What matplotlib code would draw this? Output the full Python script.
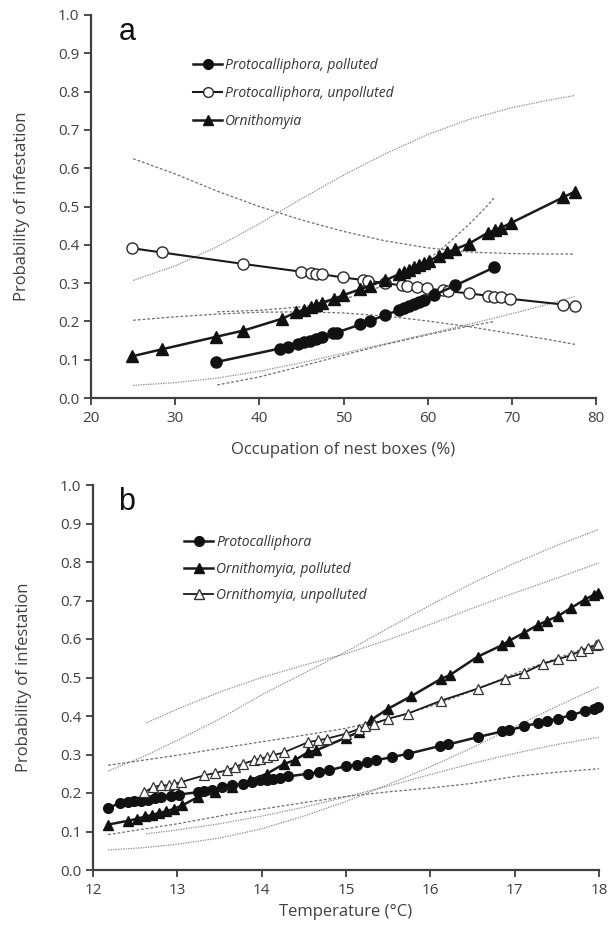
import matplotlib
matplotlib.use("Agg")
import matplotlib.pyplot as plt
from matplotlib.lines import Line2D

plt.rcParams['font.family'] = ['Open Sans', 'DejaVu Sans']

# ---------------- Panel a data ----------------
pp_x = [34.9, 42.4, 43.4, 44.6, 45.3, 46.0, 46.7, 47.4, 48.7, 49.2, 52.0, 53.1, 54.9,
        56.6, 57.2, 57.8, 58.4, 59.0, 59.6, 60.7, 63.3, 67.9]
pp_y = [0.094, 0.129, 0.133, 0.141, 0.145, 0.149, 0.155, 0.158, 0.169, 0.171, 0.192, 0.200,
        0.217, 0.229, 0.235, 0.240, 0.246, 0.251, 0.257, 0.268, 0.294, 0.341]

pu_x = [24.9, 28.4, 38.1, 44.9, 46.1, 46.7, 47.4, 49.9, 52.3, 52.9, 54.9, 56.9, 57.6,
        58.7, 59.9, 61.8, 62.4, 64.9, 67.2, 67.9, 68.7, 69.8, 76.1, 77.5]
pu_y = [0.391, 0.380, 0.350, 0.330, 0.326, 0.325, 0.323, 0.315, 0.308, 0.306, 0.300, 0.294,
        0.292, 0.290, 0.286, 0.281, 0.279, 0.273, 0.267, 0.265, 0.263, 0.259, 0.244, 0.241]

orn_x = [24.9, 28.4, 34.9, 38.1, 42.7, 44.4, 45.3, 46.1, 46.7, 47.4, 48.9, 49.9, 52.0,
         53.1, 54.9, 56.6, 57.2, 57.8, 58.4, 59.0, 59.6, 60.2, 61.3, 62.3, 63.3, 64.9,
         67.2, 68.0, 68.7, 69.9, 76.1, 77.5]
orn_y = [0.109, 0.127, 0.160, 0.176, 0.207, 0.224, 0.231, 0.238, 0.244, 0.249, 0.259, 0.268,
         0.284, 0.293, 0.307, 0.323, 0.329, 0.334, 0.341, 0.347, 0.352, 0.358, 0.371, 0.380,
         0.389, 0.403, 0.432, 0.438, 0.444, 0.457, 0.524, 0.539]

# confidence limits, panel a
orn_ci_x = [25, 30, 35, 40, 45, 50, 55, 60, 65, 70, 74, 77.5]
orn_ci_hi = [0.307, 0.345, 0.395, 0.455, 0.520, 0.582, 0.638, 0.688, 0.728, 0.758, 0.776, 0.790]
orn_ci_lo = [0.033, 0.040, 0.052, 0.070, 0.092, 0.117, 0.142, 0.167, 0.193, 0.220, 0.243, 0.265]

pu_ci_x = [25, 30, 35, 40, 45, 50, 55, 60, 65, 70, 74, 77.5]
pu_ci_hi = [0.625, 0.585, 0.540, 0.500, 0.465, 0.435, 0.410, 0.392, 0.381, 0.377, 0.376, 0.376]
pu_ci_lo = [0.203, 0.212, 0.219, 0.224, 0.225, 0.222, 0.214, 0.201, 0.186, 0.168, 0.154, 0.140]

pp_ci_x = [35, 40, 45, 50, 55, 58, 60, 62.5, 65, 67, 68]
pp_ci_hi = [0.225, 0.229, 0.238, 0.257, 0.295, 0.330, 0.360, 0.405, 0.455, 0.500, 0.525]
pp_ci_lo = [0.034, 0.055, 0.083, 0.112, 0.140, 0.155, 0.165, 0.177, 0.188, 0.196, 0.200]

# ---------------- Panel b data ----------------
pb_x = [12.18, 12.32, 12.42, 12.49, 12.57, 12.65, 12.73, 12.81, 12.92, 13.02, 13.24, 13.32,
        13.41, 13.53, 13.65, 13.78, 13.88, 13.98, 14.06, 14.14, 14.22, 14.31, 14.55, 14.68,
        14.80, 15.00, 15.13, 15.25, 15.35, 15.54, 15.74, 16.11, 16.21, 16.56, 16.85, 16.93,
        17.11, 17.28, 17.38, 17.51, 17.67, 17.83, 17.94, 17.99]
pb_y = [0.161, 0.174, 0.176, 0.178, 0.180, 0.183, 0.186, 0.189, 0.192, 0.196, 0.202, 0.205,
        0.208, 0.215, 0.220, 0.224, 0.229, 0.233, 0.234, 0.237, 0.240, 0.243, 0.250, 0.254,
        0.259, 0.270, 0.274, 0.280, 0.285, 0.293, 0.302, 0.322, 0.326, 0.345, 0.360, 0.363,
        0.373, 0.382, 0.387, 0.393, 0.402, 0.413, 0.419, 0.424]

op_x = [12.18, 12.42, 12.52, 12.62, 12.70, 12.78, 12.86, 12.96, 13.06, 13.24, 13.45, 13.65,
        13.86, 14.06, 14.27, 14.39, 14.55, 14.65, 15.00, 15.16, 15.30, 15.50, 15.77, 16.13,
        16.23, 16.56, 16.85, 16.93, 17.11, 17.28, 17.38, 17.51, 17.67, 17.83, 17.94, 17.99]
op_y = [0.118, 0.128, 0.133, 0.139, 0.143, 0.148, 0.152, 0.159, 0.168, 0.189, 0.202, 0.215,
        0.233, 0.250, 0.276, 0.285, 0.306, 0.311, 0.344, 0.359, 0.390, 0.419, 0.451, 0.497,
        0.506, 0.554, 0.584, 0.595, 0.616, 0.637, 0.647, 0.659, 0.681, 0.702, 0.715, 0.720]

ou_x = [12.61, 12.71, 12.81, 12.90, 12.96, 13.04, 13.32, 13.45, 13.59, 13.68, 13.78, 13.91,
        13.98, 14.06, 14.14, 14.27, 14.55, 14.67, 14.77, 15.00, 15.16, 15.22, 15.33, 15.50,
        15.73, 16.13, 16.56, 16.88, 17.11, 17.34, 17.51, 17.67, 17.79, 17.87, 17.96, 17.99]
ou_y = [0.202, 0.215, 0.220, 0.220, 0.224, 0.228, 0.246, 0.252, 0.259, 0.267, 0.276, 0.285,
        0.289, 0.293, 0.298, 0.306, 0.332, 0.337, 0.341, 0.354, 0.367, 0.373, 0.380, 0.393,
        0.406, 0.440, 0.471, 0.497, 0.512, 0.536, 0.547, 0.558, 0.570, 0.576, 0.584, 0.588]

# confidence limits, panel b
op_ci_x = [12.18, 12.6, 13.0, 13.5, 14.0, 14.5, 15.0, 15.5, 16.0, 16.5, 17.0, 17.5, 18.0]
op_ci_hi = [0.257, 0.295, 0.337, 0.392, 0.455, 0.511, 0.567, 0.628, 0.688, 0.745, 0.797,
            0.843, 0.885]
op_ci_lo = [0.052, 0.058, 0.067, 0.083, 0.107, 0.140, 0.178, 0.222, 0.268, 0.318, 0.372,
            0.425, 0.476]

ou_ci_x = [12.63, 13.0, 13.5, 14.0, 14.5, 15.0, 15.5, 16.0, 16.5, 17.0, 17.5, 18.0]
ou_ci_hi = [0.382, 0.418, 0.462, 0.500, 0.532, 0.562, 0.598, 0.638, 0.680, 0.720, 0.758, 0.798]
ou_ci_lo = [0.094, 0.104, 0.120, 0.140, 0.163, 0.190, 0.218, 0.248, 0.277, 0.303, 0.326, 0.345]

pb_ci_x = [12.18, 13.0, 13.65, 14.5, 15.0, 15.5, 16.0, 16.5, 17.0, 17.5, 18.0]
pb_ci_hi = [0.272, 0.298, 0.321, 0.350, 0.368, 0.392, 0.425, 0.465, 0.510, 0.550, 0.590]
pb_ci_lo = [0.092, 0.120, 0.146, 0.175, 0.191, 0.203, 0.213, 0.225, 0.243, 0.254, 0.263]

y_ticks = [0.0, 0.1, 0.2, 0.3, 0.4, 0.5, 0.6, 0.7, 0.8, 0.9, 1.0]
xa_ticks = [20, 30, 40, 50, 60, 70, 80]
xb_ticks = [12, 13, 14, 15, 16, 17, 18]

AX_COL = '#404040'
DOT = dict(color='#8a8a8a', lw=0.9, linestyle=(0, (1, 1)), zorder=1)
DASH = dict(color='#6e6e6e', lw=0.9, linestyle=(0, (2.2, 1.6)), zorder=1)

fig = plt.figure(figsize=(6.08, 9.34), dpi=100)
axa = fig.add_axes([91 / 608, 1 - 398 / 934, 505 / 608, 383 / 934])
axb = fig.add_axes([93 / 608, 1 - 870 / 934, 506 / 608, 385 / 934])


def style(ax, xt, xlabel, xpad):
    for s in ['top', 'right']:
        ax.spines[s].set_visible(False)
    for s in ['left', 'bottom']:
        ax.spines[s].set_color(AX_COL)
        ax.spines[s].set_linewidth(1.6)
    ax.set_ylim(0, 1.0)
    ax.set_xlim(xt[0], xt[-1])
    ax.set_yticks(y_ticks)
    ax.set_yticklabels([f"{v:.1f}" for v in y_ticks])
    ax.set_xticks(xt)
    ax.set_xticklabels([str(v) for v in xt])
    ax.tick_params(axis='both', direction='out', length=5, width=1.3, color=AX_COL,
                   labelcolor=AX_COL, labelsize=11)
    ax.tick_params(axis='x', pad=4)
    ax.set_xlabel(xlabel, fontsize=12, color=AX_COL, labelpad=xpad)
    ax.set_ylabel('Probability of infestation', fontsize=12, color=AX_COL, labelpad=20)


# ----- panel a -----
axa.plot(orn_ci_x, orn_ci_hi, **DOT)
axa.plot(orn_ci_x, orn_ci_lo, **DOT)
axa.plot(pu_ci_x, pu_ci_hi, **DASH)
axa.plot(pu_ci_x, pu_ci_lo, **DASH)
axa.plot(pp_ci_x, pp_ci_hi, **DASH)
axa.plot(pp_ci_x, pp_ci_lo, **DASH)

axa.plot(pu_x, pu_y, '-o', color='#1a1a1a', lw=1.5, ms=8, mfc='white', mec='#2a2a2a',
         mew=1.0, zorder=3)
axa.plot(orn_x, orn_y, '-^', color='#1a1a1a', lw=1.8, ms=8, mfc='#111111', mec='#111111',
         zorder=4)
axa.plot(pp_x, pp_y, '-o', color='#1a1a1a', lw=1.8, ms=8, mfc='#111111', mec='#111111',
         zorder=5)
style(axa, xa_ticks, 'Occupation of nest boxes (%)', 12)
axa.text(0.055, 0.955, 'a', transform=axa.transAxes, fontsize=22,
         family='Liberation Sans', color='#111111', va='center', ha='left')

handles_a = [
    Line2D([], [], color='#1a1a1a', lw=1.8, marker='o', ms=7, mfc='#111111', mec='#111111'),
    Line2D([], [], color='#1a1a1a', lw=1.5, marker='o', ms=7, mfc='white', mec='#2a2a2a'),
    Line2D([], [], color='#1a1a1a', lw=1.8, marker='^', ms=7, mfc='#111111', mec='#111111'),
]
labels_a = ['Protocalliphora, polluted', 'Protocalliphora, unpolluted', 'Ornithomyia']
leg = axa.legend(handles_a, labels_a, loc='upper left', bbox_to_anchor=(0.202, 0.888),
                 frameon=False, borderpad=0, borderaxespad=0, handlelength=2.1,
                 handletextpad=0.2, labelspacing=0.95,
                 prop={'family': 'Open Sans', 'style': 'italic', 'size': 10})
for t in leg.get_texts():
    t.set_color('#333333')

# ----- panel b -----
axb.plot(op_ci_x, op_ci_hi, **DOT)
axb.plot(op_ci_x, op_ci_lo, **DOT)
axb.plot(ou_ci_x, ou_ci_hi, **DOT)
axb.plot(ou_ci_x, ou_ci_lo, **DOT)
axb.plot(pb_ci_x, pb_ci_hi, **DASH)
axb.plot(pb_ci_x, pb_ci_lo, **DASH)

axb.plot(pb_x, pb_y, '-o', color='#1a1a1a', lw=1.8, ms=7, mfc='#111111', mec='#111111',
         zorder=3, clip_on=False)
axb.plot(op_x, op_y, '-^', color='#1a1a1a', lw=1.8, ms=7.5, mfc='#111111', mec='#111111',
         zorder=4, clip_on=False)
axb.plot(ou_x, ou_y, '-^', color='#1a1a1a', lw=1.3, ms=7.5, mfc='white', mec='#333333',
         mew=0.9, zorder=5, clip_on=False)
style(axb, xb_ticks, 'Temperature (°C)', 5)
axb.text(0.05, 0.955, 'b', transform=axb.transAxes, fontsize=22,
         family='Liberation Sans', color='#111111', va='center', ha='left')

handles_b = [
    Line2D([], [], color='#1a1a1a', lw=1.8, marker='o', ms=7, mfc='#111111', mec='#111111'),
    Line2D([], [], color='#1a1a1a', lw=1.8, marker='^', ms=7, mfc='#111111', mec='#111111'),
    Line2D([], [], color='#1a1a1a', lw=1.3, marker='^', ms=7, mfc='white', mec='#333333'),
]
labels_b = ['Protocalliphora', 'Ornithomyia, polluted', 'Ornithomyia, unpolluted']
leg = axb.legend(handles_b, labels_b, loc='upper left', bbox_to_anchor=(0.18, 0.870),
                 frameon=False, borderpad=0, borderaxespad=0, handlelength=2.1,
                 handletextpad=0.2, labelspacing=0.83,
                 prop={'family': 'Open Sans', 'style': 'italic', 'size': 10})
for t in leg.get_texts():
    t.set_color('#333333')

fig.savefig('out.png', dpi=100)
